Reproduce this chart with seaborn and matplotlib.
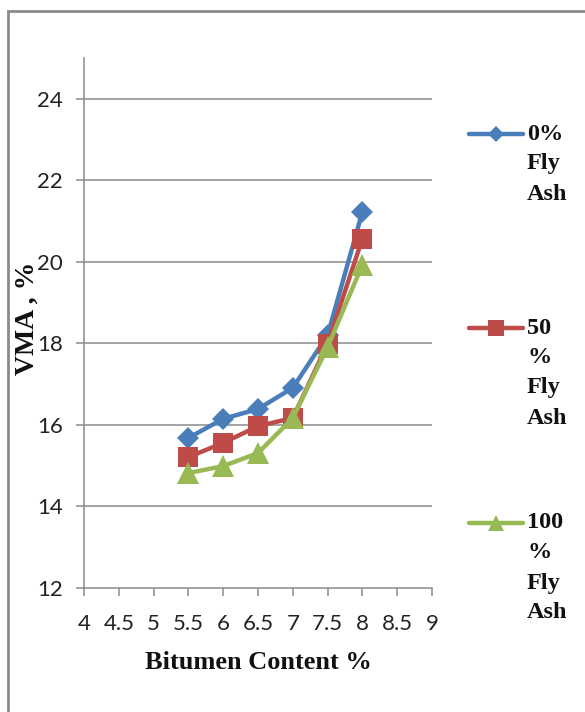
import numpy as np
import pandas as pd
import matplotlib
matplotlib.use("Agg")
import matplotlib.pyplot as plt
import seaborn as sns
from matplotlib.lines import Line2D
from matplotlib.patches import Rectangle

# ---- data ----
bitumen = [5.5, 6.0, 6.5, 7.0, 7.5, 8.0]
vma_0 = [15.68, 16.15, 16.39, 16.91, 18.2, 21.23]
vma_50 = [15.21, 15.56, 15.97, 16.17, 17.99, 20.57]
vma_100 = [14.82, 14.99, 15.31, 16.17, 17.91, 19.93]
series_names = ["0% Fly Ash", "50 % Fly Ash", "100 % Fly Ash"]
legend_lines = [["0%", "Fly", "Ash"], ["50", "%", "Fly", "Ash"], ["100", "%", "Fly", "Ash"]]
x_ticks = [4, 4.5, 5, 5.5, 6, 6.5, 7, 7.5, 8, 8.5, 9]
x_tick_labels = ["4", "4.5", "5", "5.5", "6", "6.5", "7", "7.5", "8", "8.5", "9"]
y_ticks = [12, 14, 16, 18, 20, 22, 24]

colors = {"0% Fly Ash": "#4A7EBB", "50 % Fly Ash": "#BE4B48", "100 % Fly Ash": "#98B954"}
markers = {"0% Fly Ash": "D", "50 % Fly Ash": "s", "100 % Fly Ash": "^"}
msizes = {"0% Fly Ash": 11.5, "50 % Fly Ash": 15, "100 % Fly Ash": 15.5}
leg_msizes = {"0% Fly Ash": 8.5, "50 % Fly Ash": 11, "100 % Fly Ash": 11}

df = pd.concat([
    pd.DataFrame({"Bitumen": bitumen, "VMA": v, "Series": n})
    for v, n in zip([vma_0, vma_50, vma_100], series_names)
])

sns.set_theme(style="white")
plt.rcParams["font.family"] = ["Lato", "DejaVu Sans"]

W, H = 585, 712
fig = plt.figure(figsize=(W / 100, H / 100), dpi=100)
ax = fig.add_axes([84 / W, 1 - 588 / H, (432 - 84) / W, (588 - 58) / H])

for name in series_names:
    sub = df[df["Series"] == name]
    sns.lineplot(data=sub, x="Bitumen", y="VMA", ax=ax, color=colors[name],
                 marker=markers[name], markersize=msizes[name], linewidth=3.2,
                 markeredgewidth=0, legend=False, zorder=3)

ax.set_xlim(4, 9)
ax.set_ylim(12, 25)
ax.set_xticks(x_ticks)
ax.set_xticklabels(x_tick_labels)
ax.set_yticks(y_ticks)
for y in y_ticks[1:]:
    ax.axhline(y, color="#8C8C8C", lw=1.1, zorder=1)
for s in ["top", "right"]:
    ax.spines[s].set_visible(False)
for s in ["left", "bottom"]:
    ax.spines[s].set_color("#8C8C8C")
    ax.spines[s].set_linewidth(1.1)
ax.tick_params(axis="both", which="both", direction="out", length=6, width=1.1,
               color="#8C8C8C", labelsize=16, labelcolor="#222222")
ax.tick_params(axis="y", pad=9, left=True)
ax.tick_params(axis="x", pad=13, bottom=True)
ax.set_xlabel("Bitumen Content %", family=["Liberation Serif"], fontweight="bold",
              fontsize=19, color="#111111", labelpad=12)
ax.set_ylabel("")
fig.text(27 / W, 1 - 318 / H, "VMA , %", rotation=90, family=["Liberation Serif"],
         fontweight="bold", fontsize=20, color="#111111", ha="center", va="center")

# legend (manual)
leg_y = [134, 328, 523]
for name, lines, yy in zip(series_names, legend_lines, leg_y):
    yf = 1 - yy / H
    fig.add_artist(Line2D([469 / W, 496 / W, 523 / W], [yf, yf, yf], transform=fig.transFigure,
                          color=colors[name], lw=3.2, marker=markers[name], markevery=[1],
                          markersize=leg_msizes[name], markeredgewidth=0))
    for i, t in enumerate(lines):
        fig.text(527 / W, 1 - (yy + i * 30) / H, t, family=["Liberation Serif"],
                 fontweight="bold", fontsize=17.5, color="#111111", ha="left", va="center")

# outer frame
fig.add_artist(Rectangle((8 / W, -0.1), 1.2, 1 - 11 / H + 0.1, transform=fig.transFigure,
                         fill=False, edgecolor="#8A8A8A", lw=2))

fig.savefig("out.png", dpi=100)
